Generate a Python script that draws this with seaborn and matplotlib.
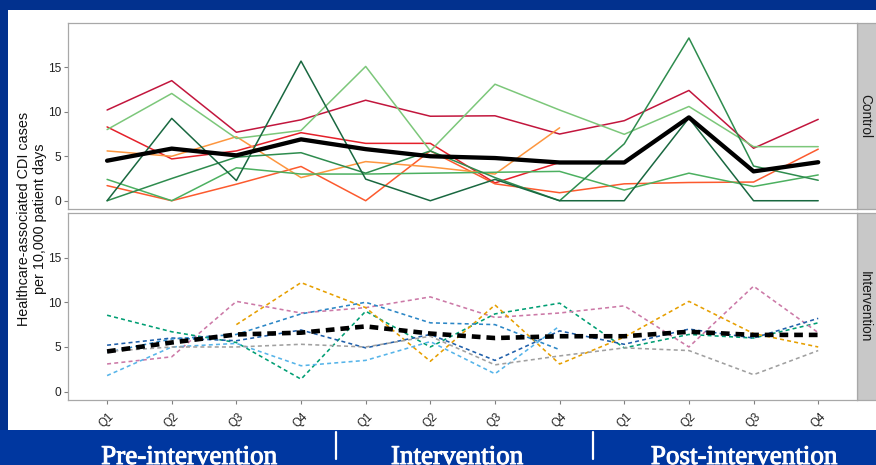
import numpy as np
import pandas as pd
import matplotlib
matplotlib.use("Agg")
import matplotlib.pyplot as plt
import matplotlib.patheffects as pe
import seaborn as sns
from matplotlib.patches import Rectangle
from matplotlib.lines import Line2D

# ---- data: HA-CDI rate per 10,000 patient days, by quarter ----
quarters = ["Q1", "Q2", "Q3", "Q4"] * 3
phases = ["Pre-intervention", "Intervention", "Post-intervention"]
nan = np.nan

# control hospitals
ctrl_h1 = [10.2, 13.5, 7.7, 9.1, 11.3, 9.5, 9.55, 7.5, 9.0, 12.4, 5.9, 9.15]
ctrl_h2 = [8.3, 4.7, 5.6, 7.65, 6.45, 6.45, 2.0, 4.3, nan, nan, nan, nan]
ctrl_h3 = [1.7, 0.0, 1.86, 3.85, 0.0, 5.6, 1.9, 0.9, 1.9, 2.05, 2.1, 5.8]
ctrl_h4 = [5.6, 5.0, 7.2, 2.6, 4.4, 3.8, 3.0, 8.2, nan, nan, nan, nan]
ctrl_h5 = [8.0, 12.06, 7.0, 7.9, 15.1, 5.6, 13.1, 10.2, 7.47, 10.6, 6.08, 6.08]
ctrl_h6 = [2.4, 0.0, 3.7, 3.0, 3.0, 3.1, 3.2, 3.3, 1.2, 3.1, 1.6, 2.9]
ctrl_h7 = [0.0, 2.5, 4.9, 5.4, 3.1, 5.6, 2.6, 0.0, 6.4, 18.3, 3.9, 2.3]
ctrl_h8 = [0.0, 9.26, 2.27, 15.7, 2.43, 0.0, 2.4, 0.0, 0.0, 9.3, 0.0, 0.0]
ctrl_mean = [4.5, 5.86, 5.1, 6.9, 5.8, 5.0, 4.8, 4.3, 4.3, 9.37, 3.3, 4.33]

# intervention hospitals
int_h1 = [8.55, 6.7, 5.5, 1.4, 9.0, 5.0, 8.7, 9.9, 4.9, 6.4, 6.0, 7.7]
int_h2 = [3.1, 3.9, 10.1, 8.8, 9.4, 10.6, 8.3, 8.8, 9.6, 5.0, 11.8, 6.6]
int_h3 = [nan, nan, 7.5, 12.2, 9.4, 3.4, 9.7, 3.1, 6.1, 10.1, 6.5, 5.0]
int_h4 = [5.2, 6.0, 5.7, 6.9, 4.9, 6.4, 3.5, 6.8, 5.3, 7.0, 6.0, 8.2]
int_h5 = [4.4, 5.9, 6.4, 8.7, 10.0, 7.7, 7.5, 4.7, nan, nan, nan, nan]
int_h6 = [1.8, 5.0, 5.4, 2.9, 3.5, 5.6, 2.0, 7.35, nan, nan, nan, nan]
int_h7 = [4.5, 5.0, 5.0, 5.3, 5.0, 6.2, 3.0, 4.0, 4.9, 4.6, 1.9, 4.6]
int_mean = [4.5, 5.5, 6.4, 6.6, 7.3, 6.5, 6.0, 6.2, 6.2, 6.7, 6.35, 6.35]

ctrl_series = {"C1": ctrl_h1, "C2": ctrl_h2, "C3": ctrl_h3, "C4": ctrl_h4,
               "C5": ctrl_h5, "C6": ctrl_h6, "C7": ctrl_h7, "C8": ctrl_h8}
int_series = {"I1": int_h1, "I2": int_h2, "I3": int_h3, "I4": int_h4,
              "I5": int_h5, "I6": int_h6, "I7": int_h7}

ctrl_colors = {"C1": "#C2163D", "C2": "#E4202A", "C3": "#FC5A2E", "C4": "#FD963F",
               "C5": "#7CC77A", "C6": "#4CB060", "C7": "#2E8C4E", "C8": "#196840"}
int_colors = {"I1": "#009E73", "I2": "#CC79A7", "I3": "#E69F00", "I4": "#1F5FAA",
              "I5": "#2B86C6", "I6": "#56B4E9", "I7": "#A0A0A0"}


def long_frame(series):
    rows = []
    for name, vals in series.items():
        for t, v in enumerate(vals):
            rows.append({"t": t, "hospital": name, "rate": v})
    return pd.DataFrame(rows).dropna()


ctrl_df = long_frame(ctrl_series)
int_df = long_frame(int_series)
t_idx = np.arange(len(quarters))

# ---- figure ----
sns.set_style("white")
plt.rcParams["font.family"] = ["Liberation Sans", "DejaVu Sans"]

W, H = 876, 465
fig = plt.figure(figsize=(W / 100, H / 100), dpi=100, facecolor="#02318E")


def fx(px):
    return px / W


def fy(py):
    return 1 - py / H


# white plotting card and lower banner (kept beneath the axes)
fig.patches.append(Rectangle((fx(8), fy(430)), fx(868), 420 / H, transform=fig.transFigure,
                             facecolor="white", edgecolor="none", zorder=-2))
fig.patches.append(Rectangle((0, 0), 1, 35 / H, transform=fig.transFigure,
                             facecolor="#0037A0", edgecolor="none", zorder=-2))

left, right = 68.3, 857
ax_top = fig.add_axes([fx(left), fy(209), fx(right - left), (209 - 23.3) / H])
ax_bot = fig.add_axes([fx(left), fy(400), fx(right - left), (400 - 213.3) / H])

sns.lineplot(data=ctrl_df, x="t", y="rate", hue="hospital", palette=ctrl_colors,
             estimator=None, lw=1.1, legend=False, ax=ax_top)
sns.lineplot(x=t_idx, y=ctrl_mean, color="black", lw=3.1, ax=ax_top)

sns.lineplot(data=int_df, x="t", y="rate", hue="hospital", palette=int_colors,
             estimator=None, lw=1.15, linestyle=(0, (2.5, 2.0)), legend=False, ax=ax_bot)
sns.lineplot(x=t_idx, y=int_mean, color="black", lw=3.3,
             linestyle=(0, (1.9, 1.3)), ax=ax_bot)

for ax in (ax_top, ax_bot):
    ax.set_zorder(2)
    ax.set_facecolor("white")
    ax.set_xlim(-0.6, 11.6)
    ax.set_ylim(-0.93, 19.95)
    ax.set_yticks([0, 5, 10, 15])
    ax.set_xlabel("")
    ax.set_ylabel("")
    for s in ax.spines.values():
        s.set_color("#A8A8A8")
        s.set_linewidth(0.9)
    ax.tick_params(axis="y", left=True, length=3, width=0.8, color="#808080",
                   labelsize=8.6, labelcolor="#222222", pad=2.2)

ax_top.set_xticks(t_idx)
ax_top.tick_params(axis="x", bottom=False, labelbottom=False)
ax_bot.set_xticks(t_idx)
ax_bot.set_xticklabels(quarters, rotation=45, ha="center", va="top")
ax_bot.tick_params(axis="x", bottom=True, length=3, width=0.8, color="#808080",
                   labelsize=8.3, labelcolor="#222222", pad=4.5)

# facet strips
for label, top, bot in (("Control", 23.3, 209), ("Intervention", 213.3, 400)):
    fig.patches.append(Rectangle((fx(857), fy(bot)), fx(22), (bot - top) / H,
                                 transform=fig.transFigure, facecolor="#C8C8C8",
                                 edgecolor="#A8A8A8", lw=0.9, zorder=1))
    fig.text(fx(865), fy((top + bot) / 2), label, rotation=-90, ha="center",
             va="center", fontsize=9.8, color="#1A1A1A")

# shared y label
fig.text(fx(32), fy(219), "Healthcare-associated CDI cases\nper 10,000 patient days",
         rotation=90, ha="center", va="center", fontsize=10.4, color="#111111",
         linespacing=1.15)

# study phases along the bottom
for label, cx in zip(phases, (189, 457, 744)):
    fig.text(fx(cx), fy(464), label, ha="center", va="baseline", fontsize=19.5,
             color="white", family=["Liberation Serif", "DejaVu Serif"],
             path_effects=[pe.withStroke(linewidth=0.7, foreground="white")])
for sx in (335.5, 592.5):
    fig.add_artist(Line2D([fx(sx), fx(sx)], [fy(432), fy(459)], color="white",
                          lw=1.6, transform=fig.transFigure))

fig.savefig("out.png", dpi=100, facecolor=fig.get_facecolor())
